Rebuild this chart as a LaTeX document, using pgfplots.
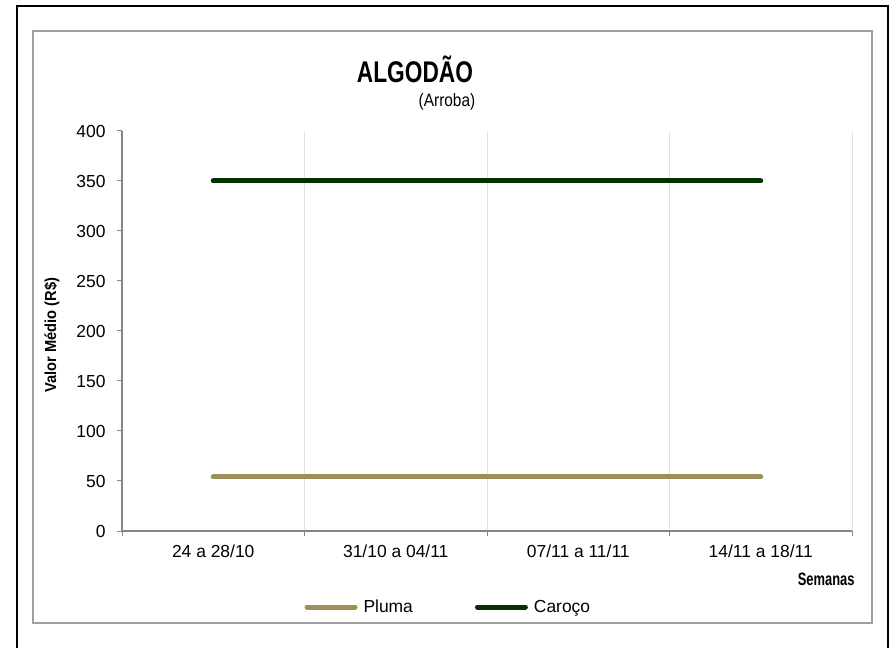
\documentclass[border=0pt]{standalone}
\usepackage{fontspec}
\setmainfont{Liberation Sans}
\usepackage{pgfplots}
\pgfplotsset{compat=1.18}
\definecolor{pluma}{RGB}{156,143,90}
\definecolor{caroco}{RGB}{0,51,0}
\definecolor{axgray}{RGB}{134,134,134}
\definecolor{gridc}{RGB}{226,226,214}
\begin{document}
\begin{tikzpicture}
\path[use as bounding box] (0,0) rectangle (890bp,648bp);
% outer black frame (open at the bottom)
\draw[black, line width=1.2bp] (17bp,0) -- (17bp,642bp) -- (888bp,642bp) -- (888bp,0);
% inner gray frame
\draw[gray!75, line width=1.6bp] (33bp,25bp) rectangle (872bp,617bp);
% title
\node[font=\fontsize{30}{32}\selectfont\bfseries, xscale=0.76] at (415bp,579bp) {ALGODÃO};
\node[font=\fontsize{18}{20}\selectfont, xscale=0.86] at (447bp,546bp) {(Arroba)};
\begin{axis}[
  at={(122bp,117bp)}, anchor=south west,
  scale only axis, width=730bp, height=400bp,
  xmin=-0.5, xmax=3.5, ymin=0, ymax=400,
  axis x line*=bottom, axis y line*=left,
  axis line style={axgray, line width=1.2bp, -},
  xtick={-0.5,0.5,1.5,2.5,3.5}, xticklabels={},
  xmajorgrids, major grid style={gridc, line width=0.8bp},
  extra x ticks={0,1,2,3},
  extra x tick labels={24 a 28/10, 31/10 a 04/11, 07/11 a 11/11, 14/11 a 18/11},
  extra x tick style={major tick length=0pt, grid=none},
  ytick={0,50,...,400},
  tick align=outside, major tick length=5bp,
  tick style={axgray, line width=1bp},
  tick label style={font=\fontsize{17.5}{19}\selectfont, black},
  /pgf/number format/assume math mode=true,
  xticklabel style={yshift=-10bp},
  yticklabel style={xshift=-8bp},
  ylabel={Valor Médio (R\$)},
  ylabel style={font=\fontsize{16}{18}\selectfont\bfseries, xscale=0.92, at={(axis description cs:-0.096,0.49)}, anchor=center},
  xlabel={Semanas},
  xlabel style={font=\fontsize{18}{20}\selectfont\bfseries, xscale=0.72, at={(axis description cs:1.007,-0.12)}, anchor=east},
  legend columns=2,
  legend style={at={(axis description cs:0.447,-0.19)}, anchor=center, draw=none, fill=none,
    font=\fontsize{17.5}{19}\selectfont,
    /tikz/every odd column/.append style={column sep=4bp},
    /tikz/every even column/.append style={column sep=60bp}},
  legend image code/.code={\draw[#1, line width=5bp, line cap=round] (0bp,0bp) -- (48bp,0bp);},
]
\addplot[pluma, line width=5bp, line cap=round] coordinates {(0,54) (1,54) (2,54) (3,54)};
\addlegendentry{Pluma}
\addplot[caroco, line width=5bp, line cap=round] coordinates {(0,350) (1,350) (2,350) (3,350)};
\addlegendentry{Caroço}
\end{axis}
\end{tikzpicture}
\end{document}
